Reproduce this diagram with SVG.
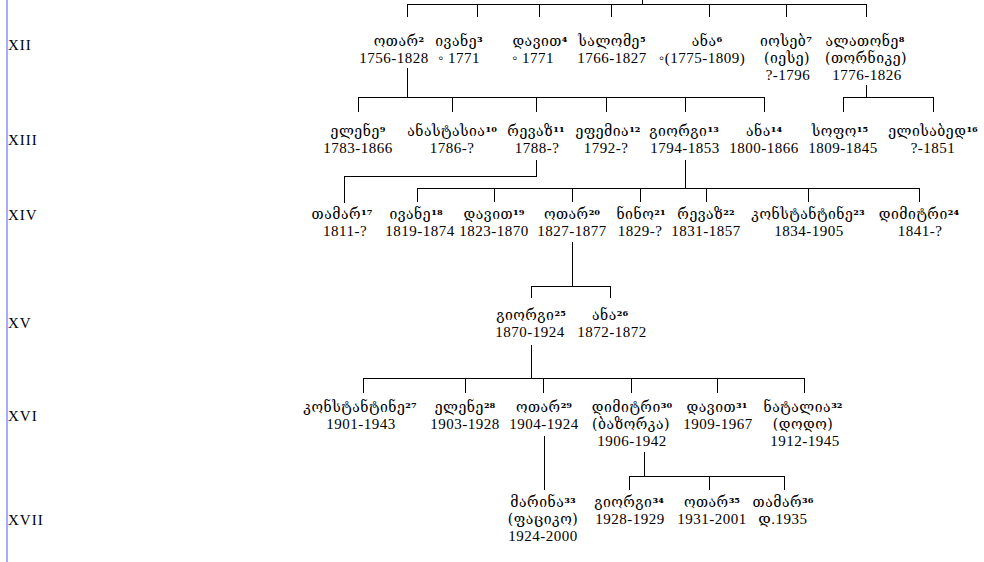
<svg xmlns="http://www.w3.org/2000/svg" width="984" height="562" viewBox="0 0 984 562">
<style>
.g{font-family:"DejaVu Serif","DejaVu Sans",serif;font-size:14px;letter-spacing:0.5px;fill:#000;text-anchor:middle}
.d{font-family:"Liberation Serif","DejaVu Serif",serif;font-size:15px;letter-spacing:0.5px;fill:#000;text-anchor:middle}
.r{font-family:"Liberation Serif","DejaVu Serif",serif;font-size:15px;letter-spacing:1px;fill:#000}
.s{font-weight:bold;font-size:13px;letter-spacing:0}
.c line{stroke:#000;stroke-width:1}
</style>
<rect x="6" y="0" width="2" height="562" fill="#aaaaff"/>
<g id="labels">
<text class="r" x="8" y="50">XII</text>
<text class="r" x="8" y="145">XIII</text>
<text class="r" x="8" y="220">XIV</text>
<text class="r" x="8" y="328">XV</text>
<text class="r" x="8" y="421">XVI</text>
<text class="r" x="8" y="525">XVII</text>
</g>
<g id="connectors" class="c">
<line x1="642.5" y1="0" x2="642.5" y2="4.5"/>
<line x1="407" y1="4.5" x2="867" y2="4.5"/>
<line x1="407.5" y1="4" x2="407.5" y2="17"/>
<line x1="477.5" y1="4" x2="477.5" y2="17"/>
<line x1="539.5" y1="4" x2="539.5" y2="17"/>
<line x1="611.5" y1="4" x2="611.5" y2="17"/>
<line x1="709.5" y1="4" x2="709.5" y2="17"/>
<line x1="786.5" y1="4" x2="786.5" y2="17"/>
<line x1="866.5" y1="4" x2="866.5" y2="17"/>
<line x1="407.5" y1="68" x2="407.5" y2="97"/>
<line x1="358" y1="97.5" x2="765" y2="97.5"/>
<line x1="358.5" y1="97" x2="358.5" y2="112"/>
<line x1="452.5" y1="97" x2="452.5" y2="112"/>
<line x1="536.5" y1="97" x2="536.5" y2="112"/>
<line x1="606.5" y1="97" x2="606.5" y2="112"/>
<line x1="685.5" y1="97" x2="685.5" y2="112"/>
<line x1="764.5" y1="97" x2="764.5" y2="112"/>
<line x1="866.5" y1="85" x2="866.5" y2="97"/>
<line x1="843" y1="97.5" x2="934" y2="97.5"/>
<line x1="843.5" y1="97" x2="843.5" y2="112"/>
<line x1="933.5" y1="97" x2="933.5" y2="112"/>
<line x1="536.5" y1="160" x2="536.5" y2="176"/>
<line x1="344" y1="176.5" x2="537" y2="176.5"/>
<line x1="344.5" y1="176" x2="344.5" y2="203"/>
<line x1="685.5" y1="160" x2="685.5" y2="188"/>
<line x1="417" y1="188.5" x2="920" y2="188.5"/>
<line x1="417.5" y1="188" x2="417.5" y2="202"/>
<line x1="494.5" y1="188" x2="494.5" y2="202"/>
<line x1="572.5" y1="188" x2="572.5" y2="202"/>
<line x1="640.5" y1="188" x2="640.5" y2="202"/>
<line x1="706.5" y1="188" x2="706.5" y2="202"/>
<line x1="808.5" y1="188" x2="808.5" y2="202"/>
<line x1="919.5" y1="188" x2="919.5" y2="202"/>
<line x1="572.5" y1="242" x2="572.5" y2="286"/>
<line x1="531" y1="286.5" x2="611" y2="286.5"/>
<line x1="531.5" y1="286" x2="531.5" y2="298"/>
<line x1="610.5" y1="286" x2="610.5" y2="298"/>
<line x1="531.5" y1="345" x2="531.5" y2="378"/>
<line x1="363" y1="378.5" x2="805" y2="378.5"/>
<line x1="363.5" y1="378" x2="363.5" y2="393"/>
<line x1="465.5" y1="378" x2="465.5" y2="393"/>
<line x1="543.5" y1="378" x2="543.5" y2="393"/>
<line x1="631.5" y1="378" x2="631.5" y2="393"/>
<line x1="717.5" y1="378" x2="717.5" y2="393"/>
<line x1="804.5" y1="378" x2="804.5" y2="393"/>
<line x1="544.5" y1="436" x2="544.5" y2="490"/>
<line x1="644.5" y1="452" x2="644.5" y2="476"/>
<line x1="629" y1="476.5" x2="785" y2="476.5"/>
<line x1="629.5" y1="476" x2="629.5" y2="490"/>
<line x1="709.5" y1="476" x2="709.5" y2="490"/>
<line x1="784.5" y1="476" x2="784.5" y2="490"/>
</g>
<g id="n2"><text class="g" x="399" y="46">ოთარ<tspan class="s">²</tspan></text><text class="d" x="394" y="63">1756-1828</text></g>
<g id="n3"><text class="g" x="459" y="46">ივანე<tspan class="s">³</tspan></text><text class="d" x="459" y="63">◦ 1771</text></g>
<g id="n4"><text class="g" x="540" y="46">დავით<tspan class="s">⁴</tspan></text><text class="d" x="533" y="63">◦ 1771</text></g>
<g id="n5"><text class="g" x="612" y="46">სალომე<tspan class="s">⁵</tspan></text><text class="d" x="612" y="63">1766-1827</text></g>
<g id="n6"><text class="g" x="707" y="46">ანა<tspan class="s">⁶</tspan></text><text class="d" x="702" y="63">◦(1775-1809)</text></g>
<g id="n7"><text class="g" x="786" y="46">იოსებ<tspan class="s">⁷</tspan></text><text class="g" x="787" y="63">(იესე)</text><text class="d" x="788" y="80">?-1796</text></g>
<g id="n8"><text class="g" x="865" y="46">ალათონე<tspan class="s">⁸</tspan></text><text class="g" x="866" y="63">(თორნიკე)</text><text class="d" x="867" y="80">1776-1826</text></g>
<g id="n9"><text class="g" x="358" y="136">ელენე<tspan class="s">⁹</tspan></text><text class="d" x="358" y="153">1783-1866</text></g>
<g id="n10"><text class="g" x="452" y="136">ანასტასია<tspan class="s">¹⁰</tspan></text><text class="d" x="452" y="153">1786-?</text></g>
<g id="n11"><text class="g" x="536" y="136">რევაზ<tspan class="s">¹¹</tspan></text><text class="d" x="537" y="153">1788-?</text></g>
<g id="n12"><text class="g" x="608" y="136">ეფემია<tspan class="s">¹²</tspan></text><text class="d" x="606" y="153">1792-?</text></g>
<g id="n13"><text class="g" x="684" y="136">გიორგი<tspan class="s">¹³</tspan></text><text class="d" x="685" y="153">1794-1853</text></g>
<g id="n14"><text class="g" x="764" y="136">ანა<tspan class="s">¹⁴</tspan></text><text class="d" x="764" y="153">1800-1866</text></g>
<g id="n15"><text class="g" x="840" y="136">სოფო<tspan class="s">¹⁵</tspan></text><text class="d" x="843" y="153">1809-1845</text></g>
<g id="n16"><text class="g" x="933" y="136">ელისაბედ<tspan class="s">¹⁶</tspan></text><text class="d" x="933" y="153">?-1851</text></g>
<g id="n17"><text class="g" x="342" y="219">თამარ<tspan class="s">¹⁷</tspan></text><text class="d" x="345" y="236">1811-?</text></g>
<g id="n18"><text class="g" x="416" y="219">ივანე<tspan class="s">¹⁸</tspan></text><text class="d" x="420" y="236">1819-1874</text></g>
<g id="n19"><text class="g" x="494" y="219">დავით<tspan class="s">¹⁹</tspan></text><text class="d" x="494" y="236">1823-1870</text></g>
<g id="n20"><text class="g" x="572" y="219">ოთარ<tspan class="s">²⁰</tspan></text><text class="d" x="572" y="236">1827-1877</text></g>
<g id="n21"><text class="g" x="641" y="219">ნინო<tspan class="s">²¹</tspan></text><text class="d" x="640" y="236">1829-?</text></g>
<g id="n22"><text class="g" x="706" y="219">რევაზ<tspan class="s">²²</tspan></text><text class="d" x="706" y="236">1831-1857</text></g>
<g id="n23"><text class="g" x="808" y="219">კონსტანტინე<tspan class="s">²³</tspan></text><text class="d" x="809" y="236">1834-1905</text></g>
<g id="n24"><text class="g" x="919" y="219">დიმიტრი<tspan class="s">²⁴</tspan></text><text class="d" x="920" y="236">1841-?</text></g>
<g id="n25"><text class="g" x="531" y="320">გიორგი<tspan class="s">²⁵</tspan></text><text class="d" x="530" y="337">1870-1924</text></g>
<g id="n26"><text class="g" x="610" y="320">ანა<tspan class="s">²⁶</tspan></text><text class="d" x="612" y="337">1872-1872</text></g>
<g id="n27"><text class="g" x="360" y="412">კონსტანტინე<tspan class="s">²⁷</tspan></text><text class="d" x="361" y="429">1901-1943</text></g>
<g id="n28"><text class="g" x="465" y="412">ელენე<tspan class="s">²⁸</tspan></text><text class="d" x="465" y="429">1903-1928</text></g>
<g id="n29"><text class="g" x="544" y="412">ოთარ<tspan class="s">²⁹</tspan></text><text class="d" x="544" y="429">1904-1924</text></g>
<g id="n30"><text class="g" x="632" y="412">დიმიტრი<tspan class="s">³⁰</tspan></text><text class="g" x="631" y="429">(ბაზორკა)</text><text class="d" x="632" y="446">1906-1942</text></g>
<g id="n31"><text class="g" x="717" y="412">დავით<tspan class="s">³¹</tspan></text><text class="d" x="718" y="429">1909-1967</text></g>
<g id="n32"><text class="g" x="803" y="412">ნატალია<tspan class="s">³²</tspan></text><text class="g" x="803" y="429">(დოდო)</text><text class="d" x="805" y="446">1912-1945</text></g>
<g id="n33"><text class="g" x="543" y="507">მარინა<tspan class="s">³³</tspan></text><text class="g" x="543" y="524">(ფაციკო)</text><text class="d" x="543" y="541">1924-2000</text></g>
<g id="n34"><text class="g" x="629" y="507">გიორგი<tspan class="s">³⁴</tspan></text><text class="d" x="630" y="524">1928-1929</text></g>
<g id="n35"><text class="g" x="712" y="507">ოთარ<tspan class="s">³⁵</tspan></text><text class="d" x="712" y="524">1931-2001</text></g>
<g id="n36"><text class="g" x="783" y="507">თამარ<tspan class="s">³⁶</tspan></text><text class="d" x="783" y="524">დ.1935</text></g>
</svg>
